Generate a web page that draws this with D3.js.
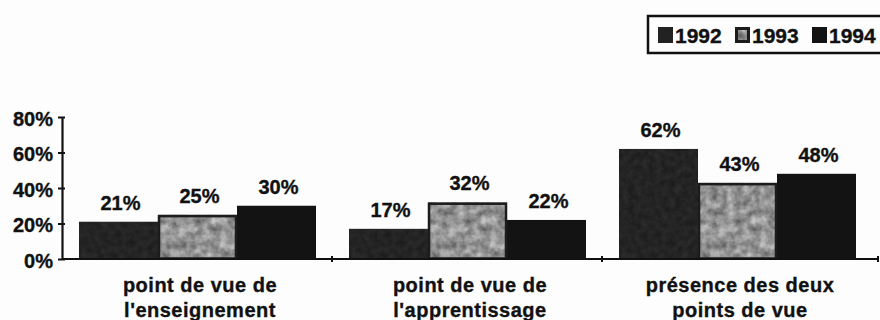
<!DOCTYPE html>
<html>
<head>
<meta charset="utf-8">
<script src="https://cdn.jsdelivr.net/npm/d3@7"></script>
<style>
  html, body { margin: 0; padding: 0; background: #fdfdfd; }
  svg { display: block; }
  text { font-family: "Liberation Sans", Arial, Helvetica, sans-serif; font-weight: bold; fill: #111; stroke: #111; stroke-width: 0.35px; }
</style>
</head>
<body>
<svg id="chart" width="880" height="320"></svg>
<script>
// Categories (two-line labels), series and values
const categories = [
  ["point de vue de", "l'enseignement"],
  ["point de vue de", "l'apprentissage"],
  ["présence des deux", "points de vue"]
];
const years = ["1992", "1993", "1994"];
const values1992 = [21, 17, 62];
const values1993 = [25, 32, 43];
const values1994 = [30, 22, 48];
const yTicks = [0, 20, 40, 60, 80];

const seriesValues = { "1992": values1992, "1993": values1993, "1994": values1994 };
const catKeys = categories.map(c => c.join(" "));

const svg = d3.select("#chart");
const defs = svg.append("defs");

// Texture filter: noise remapped to a grey range, clipped to the shape
function textureFilter(id, freq, seed, scale, offset) {
  const f = defs.append("filter").attr("id", id)
    .attr("x", 0).attr("y", 0).attr("width", 1).attr("height", 1)
    .attr("color-interpolation-filters", "sRGB");
  f.append("feTurbulence").attr("type", "fractalNoise")
    .attr("baseFrequency", freq).attr("numOctaves", 3).attr("seed", seed).attr("result", "n");
  const row = `${scale} 0 0 0 ${offset}`;
  f.append("feColorMatrix").attr("in", "n").attr("type", "matrix")
    .attr("values", `${row}  ${row}  ${row}  0 0 0 0 1`).attr("result", "g");
  f.append("feComposite").attr("in", "g").attr("in2", "SourceGraphic").attr("operator", "in");
}
textureFilter("mottle", "0.12", 4, 0.55, 0.3);
textureFilter("grain", "0.15", 9, 0.1, 0.09);

const fills = { "1992": "#222222", "1993": "#8f8f8f", "1994": "#131313" };
const filters = { "1992": "url(#grain)", "1993": "url(#mottle)", "1994": null };

// Scales
const x0 = d3.scaleBand().domain(catKeys).range([62, 872]);
const x1 = d3.scaleBand().domain(years).range([17, 254]);
const y = d3.scaleLinear().domain([0, 80]).range([259, 117]);

// Bars
const groups = svg.append("g").selectAll("g.grp")
  .data(catKeys)
  .join("g").attr("class", "grp")
  .attr("transform", d => `translate(${x0(d)},0)`);

const barData = i => years.map(yr => ({ year: yr, value: seriesValues[yr][i] }));

groups.each(function (d, i) {
  const g = d3.select(this);
  const data = barData(i);
  g.selectAll("rect.bar").data(data).join("rect").attr("class", "bar")
    .attr("x", b => x1(b.year))
    .attr("y", b => y(b.value))
    .attr("width", x1.bandwidth())
    .attr("height", b => y(0) - y(b.value))
    .attr("fill", b => fills[b.year])
    .attr("filter", b => filters[b.year]);
  // dark outline around the grey bars
  g.selectAll("rect.outline").data(data.filter(b => b.year === "1993")).join("rect").attr("class", "outline")
    .attr("x", b => x1(b.year) + 1)
    .attr("y", b => y(b.value) + 1.5)
    .attr("width", x1.bandwidth() - 2)
    .attr("height", b => y(0) - y(b.value) - 2)
    .attr("fill", "none").attr("stroke", "#1c1c1c").attr("stroke-width", 2.5);
  // value labels
  g.selectAll("text.val").data(data).join("text").attr("class", "val")
    .attr("x", b => x1(b.year) + x1.bandwidth() / 2 + 2)
    .attr("y", b => y(b.value) - 12)
    .attr("text-anchor", "middle")
    .style("font-size", "20px")
    .text(b => b.value + "%");
});

// Y axis
const yAxis = svg.append("g").attr("transform", "translate(62,0)")
  .call(d3.axisLeft(y).tickValues(yTicks).tickFormat(d => d + "%")
    .tickSizeInner(4).tickSizeOuter(0).tickPadding(5));
yAxis.select(".domain").attr("stroke", "#111").attr("stroke-width", 2.2);
yAxis.selectAll(".tick line").attr("stroke", "#111").attr("stroke-width", 2).attr("x1", 3);
yAxis.selectAll(".tick text")
  .attr("dy", "0.42em")
  .style("font-size", "20px").style("font-family", "'Liberation Sans', Arial, sans-serif")
  .style("font-weight", "bold").attr("fill", "#111");

// X axis: baseline and group separators
const xAxis = svg.append("g").attr("transform", `translate(0,${y(0)})`)
  .call(d3.axisBottom(x0).tickSize(0).tickPadding(0).tickFormat(""));
xAxis.select(".domain").attr("stroke", "#111").attr("stroke-width", 2.2)
  .attr("d", `M62,0H878`);
const bounds = catKeys.slice(1).map(k => x0(k)).concat([878]);
xAxis.selectAll("line.sep").data(bounds).join("line").attr("class", "sep")
  .attr("x1", d => d).attr("x2", d => d).attr("y1", -3).attr("y2", 3)
  .attr("stroke", "#111").attr("stroke-width", 2);

// Category labels (two lines)
svg.append("g").selectAll("text.cat").data(categories)
  .join("text").attr("class", "cat")
  .attr("text-anchor", "middle")
  .style("font-size", "20px")
  .style("letter-spacing", "0.5px")
  .each(function (c, i) {
    const cx = x0(catKeys[i]) + x0.bandwidth() / 2 + 3;
    d3.select(this).selectAll("tspan").data(c).join("tspan")
      .attr("x", cx)
      .attr("y", (t, j) => 292 + j * 25)
      .text(t => t);
  });

// Legend
const legend = svg.append("g");
legend.append("rect").attr("x", 648).attr("y", 16).attr("width", 250).attr("height", 37)
  .attr("fill", "#fdfdfd").attr("stroke", "#111").attr("stroke-width", 2.5);
const items = legend.selectAll("g.item").data(years).join("g").attr("class", "item")
  .attr("transform", (d, i) => `translate(${658 + i * 77},0)`);
items.append("rect").attr("x", 0).attr("y", 27).attr("width", 15).attr("height", 16)
  .attr("fill", d => d === "1993" ? "#1c1c1c" : fills[d]);
items.filter(d => d === "1993").append("rect")
  .attr("x", 3).attr("y", 30).attr("width", 9).attr("height", 10)
  .attr("fill", "#8f8f8f").attr("filter", "url(#mottle)");
items.append("text").attr("x", 17).attr("y", 43)
  .style("font-size", "21px")
  .text(d => d);
</script>
</body>
</html>
